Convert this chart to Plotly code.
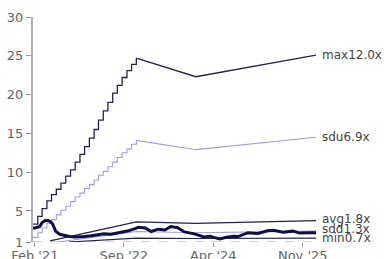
import plotly.graph_objects as go

# ---- data ----
ramp_dates = ["2021-01-20", "2021-02-20", "2021-03-20", "2021-04-20", "2021-05-20", "2021-06-20",
              "2021-07-20", "2021-08-20", "2021-09-20", "2021-10-20", "2021-11-20", "2021-12-20",
              "2022-01-20", "2022-02-20", "2022-03-20", "2022-04-20", "2022-05-20", "2022-06-20",
              "2022-07-20", "2022-08-20", "2022-09-20", "2022-10-20", "2022-11-20"]
max_ramp = [3.3, 4.3, 5.3, 6.3, 7.1, 7.8, 8.6, 9.5, 10.3, 11.3, 12.3, 13.3,
            14.4, 15.5, 16.7, 17.9, 19.0, 20.2, 21.2, 22.2, 23.1, 23.9, 24.7]
sdu_ramp = [1.6, 2.2, 2.8, 3.4, 3.9, 4.5, 5.1, 5.6, 6.2, 6.8, 7.3, 7.9,
            8.4, 9.0, 9.6, 10.1, 10.7, 11.3, 11.9, 12.5, 13.0, 13.6, 14.1]

tail_dates = ["2022-11-20", "2023-12-10", "2026-01-26"]
max_tail = [24.7, 22.3, 25.1]
sdu_tail = [14.1, 12.9, 14.5]

avg_dates = ["2021-05-10", "2022-11-20", "2023-12-10", "2026-01-26"]
avg_vals = [1.15, 3.6, 3.4, 3.75]
sdd_dates = ["2021-07-01", "2022-11-20", "2023-12-10", "2026-01-26"]
sdd_vals = [1.0, 2.35, 2.2, 2.4]
min_dates = ["2021-09-10", "2022-11-20", "2023-12-10", "2026-01-26"]
min_vals = [1.0, 1.5, 1.45, 1.5]

act_dates = ["2021-01-20", "2021-02-02", "2021-03-05", "2021-03-20", "2021-04-07", "2021-04-26",
             "2021-05-15", "2021-05-28", "2021-06-05", "2021-06-15", "2021-07-12", "2021-08-13",
             "2021-09-14", "2021-10-16", "2021-11-17", "2021-12-19", "2022-02-01", "2022-03-11",
             "2022-04-25", "2022-06-08", "2022-07-16", "2022-08-30", "2022-10-01", "2022-11-02",
             "2022-12-04", "2023-01-17", "2023-02-24", "2023-04-10", "2023-05-24", "2023-07-01",
             "2023-08-14", "2023-09-28", "2023-11-30", "2024-02-01", "2024-03-11", "2024-04-05",
             "2024-05-13", "2024-06-26", "2024-08-09", "2024-09-10", "2024-11-12", "2025-01-14",
             "2025-03-18", "2025-04-25", "2025-06-27", "2025-08-29", "2025-10-12", "2025-12-14",
             "2026-01-26"]
act_vals = [2.8, 2.8, 3.0, 3.5, 3.75, 3.8, 3.6, 3.3, 2.9, 2.4, 2.0, 1.8,
            1.7, 1.65, 1.65, 1.7, 1.8, 1.9, 2.05, 2.0, 2.15, 2.25, 2.45, 2.65,
            2.9, 2.8, 2.35, 2.65, 2.55, 3.0, 2.85, 2.3, 2.05, 1.65, 1.75, 1.6,
            1.4, 1.6, 1.75, 1.7, 2.2, 2.1, 2.45, 2.5, 2.25, 2.4, 2.15, 2.2, 2.2]

baseline = 1
x_start, x_end = "2021-01-20", "2026-01-26"
tick_dates = ["2021-02-01", "2022-09-01", "2024-04-01", "2025-11-01"]
tick_text = ["Feb '21", "Sep '22", "Apr '24", "Nov '25"]
y_ticks = [1, 5, 10, 15, 20, 25, 30]

labels = ["max12.0x", "sdu6.9x", "avg1.8x", "sdd1.3x", "min0.7x"]
label_vals = [25.1, 14.5, 3.95, 2.65, 1.5]

DARK = "#23234f"
LIGHT = "#9d9de3"

fig = go.Figure()
fig.add_trace(go.Scatter(x=[x_start, x_end], y=[baseline, baseline], mode="lines",
                         line=dict(color="#aaaaaa", width=1, dash="dash")))
fig.add_trace(go.Scatter(x=ramp_dates, y=max_ramp, mode="lines", line_shape="hv",
                         line=dict(color=DARK, width=1.3)))
fig.add_trace(go.Scatter(x=tail_dates, y=max_tail, mode="lines", line=dict(color=DARK, width=1.3)))
fig.add_trace(go.Scatter(x=ramp_dates, y=sdu_ramp, mode="lines", line_shape="hv",
                         line=dict(color=LIGHT, width=1.1)))
fig.add_trace(go.Scatter(x=tail_dates, y=sdu_tail, mode="lines", line=dict(color=LIGHT, width=1.1)))
fig.add_trace(go.Scatter(x=avg_dates, y=avg_vals, mode="lines", line=dict(color=DARK, width=1.2)))
fig.add_trace(go.Scatter(x=sdd_dates, y=sdd_vals, mode="lines", line=dict(color=LIGHT, width=1.1)))
fig.add_trace(go.Scatter(x=min_dates, y=min_vals, mode="lines", line=dict(color=DARK, width=1.2)))
fig.add_trace(go.Scatter(x=act_dates, y=act_vals, mode="lines", line=dict(color="#0f0f45", width=3)))

for t, v in zip(labels, label_vals):
    fig.add_annotation(x=x_end, y=v, text=t, showarrow=False, xanchor="left", xshift=5,
                       borderpad=0,
                       font=dict(family="DejaVu Sans", size=12, color="#444444"))

fig.update_layout(
    width=384, height=259, showlegend=False,
    margin=dict(l=33, r=68, t=17, b=17, autoexpand=False),
    plot_bgcolor="white", paper_bgcolor="white",
    font=dict(family="DejaVu Sans", size=13, color="#666666"),
    xaxis=dict(range=[x_start, x_end], tickvals=tick_dates, ticktext=tick_text,
               showgrid=False, zeroline=False, showline=False, automargin=False,
               ticks="outside", ticklen=4, tickcolor="#999999", ticklabelstandoff=-3),
    yaxis=dict(range=[1, 30], tickvals=y_ticks, showgrid=False, zeroline=False,
               showline=True, linecolor="#b0b0b0", linewidth=2, automargin=False,
               ticks="outside", ticklen=5, tickcolor="#999999"),
)
fig.write_html("out.html", config={"displayModeBar": False},
               post_script="document.body.style.margin='0px';document.body.style.overflow='hidden';")
